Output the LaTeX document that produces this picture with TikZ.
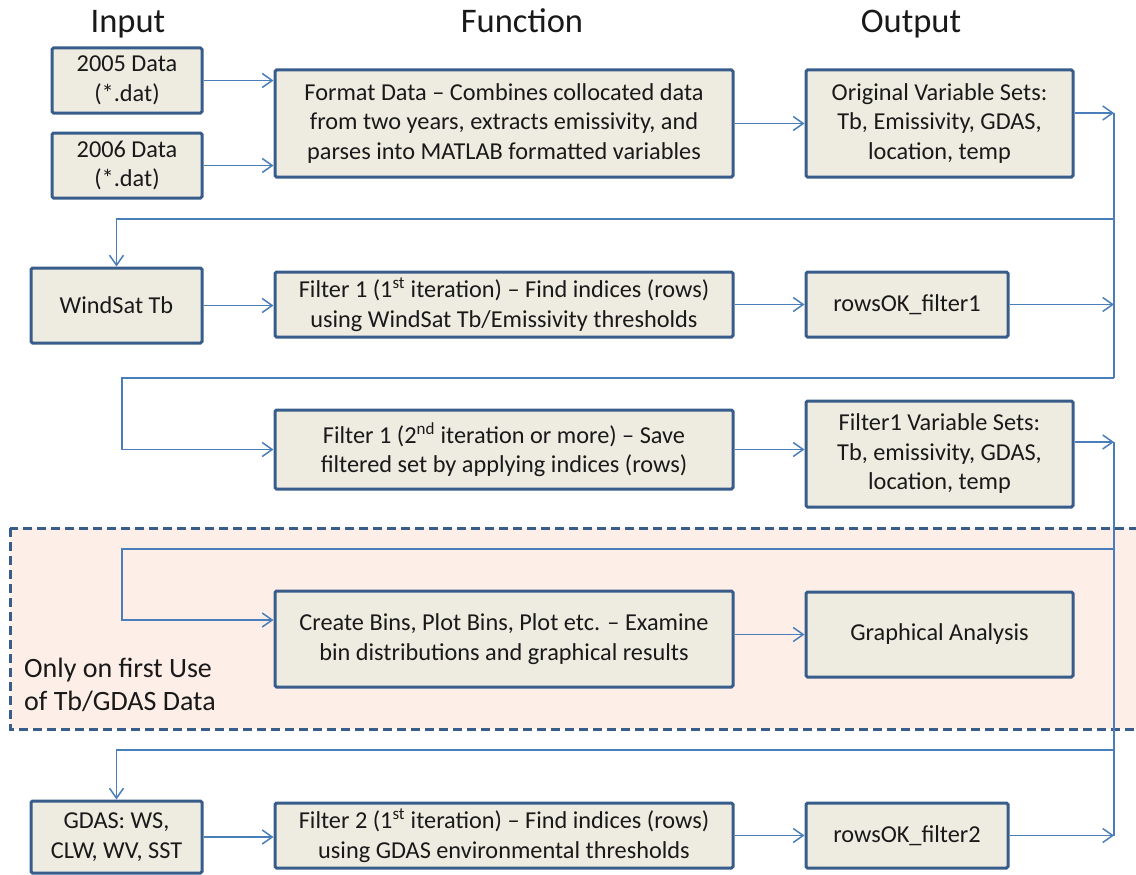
\documentclass[tikz,border=0pt]{standalone}
\usepackage{fontspec}
\setmainfont{Carlito}
\usetikzlibrary{arrows.meta}
\definecolor{boxfill}{HTML}{EEECE1}
\definecolor{boxline}{HTML}{385D8A}
\definecolor{linkc}{HTML}{4A7EBB}
\definecolor{zonefill}{HTML}{FDEFE7}
\begin{document}
\begin{tikzpicture}[x=1pt,y=-1pt,
  box/.style={draw=boxline, line width=3pt, fill=boxfill, rounded corners=1.5pt,
    align=center, font=\fontsize{24.3}{29.5}\selectfont, text=black!90, inner sep=0pt},
  link/.style={draw=linkc, line width=1.5pt, -{Straight Barb[length=10pt,width=14pt]}},
  wire/.style={draw=linkc, line width=1.5pt},
  head/.style={font=\fontsize{34.5}{40}\selectfont, anchor=base, text=black!90},
  zone/.style={draw=boxline, line width=3pt, dash pattern=on 9pt off 5pt, fill=zonefill},
]
\useasboundingbox (0,0) rectangle (1136,875);

% shaded region for the optional analysis step
\begin{scope}
  \clip (0,0) rectangle (1136,875);
  \draw[zone] (10,528) rectangle (1150,729);
\end{scope}
\node[anchor=base west, align=left, inner sep=0pt, text=black!90,
  font=\fontsize{28}{33}\selectfont] (note) at (24,710) {Only on first Use\\of Tb/GDAS Data};

% column headings
\node[head] (hin)  at (128,33) {Input};
\node[head] (hfun) at (522,33) {Function};
\node[head] (hout) at (911,33) {Output};

% row 1
\node[box, minimum width=150pt, minimum height=65pt] (d05) at (127,80.5) {2005 Data\\(*.dat)};
\node[box, minimum width=150pt, minimum height=65pt] (d06) at (127,165.5) {2006 Data\\(*.dat)};
\node[box, minimum width=458pt, minimum height=107pt] (fmt) at (504,123.5)
  {Format Data -- Combines collocated data\\from two years, extracts emissivity, and\\parses into MATLAB formatted variables};
\node[box, minimum width=267pt, minimum height=107pt] (orig) at (939.5,123.5)
  {Original Variable Sets:\\Tb, Emissivity, GDAS,\\location, temp};

% row 2
\node[box, minimum width=171pt, minimum height=75pt] (wind) at (116.5,305.5) {WindSat Tb};
\node[box, minimum width=458pt, minimum height=65pt] (f1a) at (504,304.5)
  {Filter 1 (1\textsuperscript{st} iteration) -- Find indices (rows)\\using WindSat Tb/Emissivity thresholds};
\node[box, minimum width=202pt, minimum height=65pt] (rows1) at (907,304.5) {rowsOK\_filter1};

% row 3
\node[box, minimum width=458pt, minimum height=79pt] (f1b) at (504,449.5)
  {Filter 1 (2\textsuperscript{nd} iteration or more) -- Save\\filtered set by applying indices (rows)};
\node[box, minimum width=267pt, minimum height=106pt] (f1vars) at (939.5,454)
  {Filter1 Variable Sets:\\Tb, emissivity, GDAS,\\location, temp};

% row 4
\node[box, minimum width=458pt, minimum height=96pt] (bins) at (504,639)
  {Create Bins, Plot Bins, Plot etc. -- Examine\\bin distributions and graphical results};
\node[box, minimum width=267pt, minimum height=85pt] (graph) at (939.5,634.5) {Graphical Analysis};

% row 5
\node[box, minimum width=171pt, minimum height=72pt] (gdas) at (116.5,837) {GDAS: WS,\\CLW, WV, SST};
\node[box, minimum width=458pt, minimum height=65pt] (f2) at (504,835.5)
  {Filter 2 (1\textsuperscript{st} iteration) -- Find indices (rows)\\using GDAS environmental thresholds};
\node[box, minimum width=202pt, minimum height=65pt] (rows2) at (907,835.5) {rowsOK\_filter2};

% bus junctions on the right
\coordinate (b1top) at (1114,113);
\coordinate (b1mid) at (1114,219);
\coordinate (b1bot) at (1114,378);
\coordinate (c1)    at (122,378);
\coordinate (b2top) at (1114,442);
\coordinate (b2mid) at (1114,549);
\coordinate (b2low) at (1114,750);
\coordinate (b2bot) at (1114,835.5);
\coordinate (c2)    at (122,549);
\coordinate (c2end) at (122,620);

% connectors
\draw[link] (d05.east) -- (d05.east -| fmt.west);
\draw[link] (d06.east) -- (d06.east -| fmt.west);
\draw[link] (fmt.east) -- (orig.west);
\draw[link] (orig.east |- b1top) -- (b1top);
\draw[wire] (b1top) -- (b1bot);
\draw[link] (b1mid) -| (wind.north);
\draw[link] (wind.east) -- (wind.east -| f1a.west);
\draw[link] (f1a.east) -- (rows1.west);
\draw[link] (rows1.east) -- (rows1.east -| b1top);
\draw[link] (b1bot) -- (c1) |- (f1b.west);
\draw[link] (f1b.east) -- (f1b.east -| f1vars.west);
\draw[link] (f1vars.east |- b2top) -- (b2top);
\draw[wire] (b2top) -- (b2bot);
\draw[link] (b2mid) -- (c2) -- (c2end) -- (c2end -| bins.west);
\draw[link] (bins.east |- graph.west) -- (graph.west);
\draw[link] (b2low) -| (gdas.north);
\draw[link] (gdas.east) -- (gdas.east -| f2.west);
\draw[link] (f2.east) -- (rows2.west);
\draw[link] (rows2.east) -- (b2bot);
\end{tikzpicture}
\end{document}
